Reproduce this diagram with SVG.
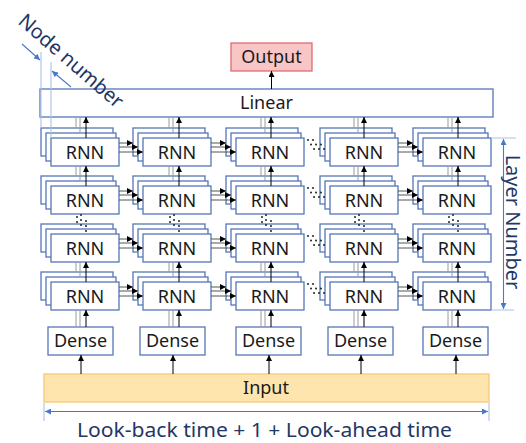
<svg xmlns="http://www.w3.org/2000/svg" width="526" height="443" viewBox="0 0 526 443">
  <style>
    text { font-family: "Noto Sans", "Open Sans", sans-serif; }
    .box { fill: #ffffff; stroke: #5676b8; stroke-width: 1.3; }
    .lbl { font-size: 18px; fill: #1a1a1a; text-anchor: middle; }
    .dim-text { font-size: 20px; fill: #1f3864; }
    .up { stroke: #000; stroke-width: 1; fill: none; }
    .side { stroke: #9a9a9a; stroke-width: 1; fill: none; }
    .fwd { stroke: #555; stroke-width: 1; fill: none; }
    .dot { fill: #222; }
    .dim { stroke: #4a78c8; stroke-width: 1.1; fill: none; }
    .ext { stroke: #a9c2ea; stroke-width: 1.1; fill: none; }
  </style>
  <defs>
    <marker id="ah" viewBox="0 0 10 10" refX="10" refY="5" markerWidth="6" markerHeight="6" markerUnits="userSpaceOnUse" orient="auto">
      <path d="M0,0 L10,5 L0,10 z" fill="#000"/>
    </marker>
    <marker id="bh" viewBox="0 0 10 10" refX="10" refY="5" markerWidth="7" markerHeight="6" markerUnits="userSpaceOnUse" orient="auto-start-reverse">
      <path d="M0,0 L10,5 L0,10 z" fill="#4a78c8"/>
    </marker>
  </defs>

  <!-- output and linear head -->
  <g id="output">
    <rect x="231" y="43" width="81" height="28" fill="#f8c6c6" stroke="#e36b6b" stroke-width="1.3"/>
    <text class="lbl" x="271.5" y="63">Output</text>
  </g>
  <g id="linear">
    <rect class="box" x="40" y="89" width="453" height="28"/>
    <text class="lbl" x="266.5" y="109">Linear</text>
  </g>

  <!-- RNN stacks: back, middle and front cell of each node -->
  <g id="rnn-1-1" transform="translate(51,138)"><rect class="box" x="-10" y="-10" width="72" height="28"/><rect class="box" x="-5" y="-5" width="70" height="28"/><rect class="box" width="68" height="28"/><text class="lbl" x="34" y="21">RNN</text></g>
  <g id="rnn-1-2" transform="translate(143,138)"><rect class="box" x="-10" y="-10" width="72" height="28"/><rect class="box" x="-5" y="-5" width="70" height="28"/><rect class="box" width="68" height="28"/><text class="lbl" x="34" y="21">RNN</text></g>
  <g id="rnn-1-3" transform="translate(236,138)"><rect class="box" x="-10" y="-10" width="72" height="28"/><rect class="box" x="-5" y="-5" width="70" height="28"/><rect class="box" width="68" height="28"/><text class="lbl" x="34" y="21">RNN</text></g>
  <g id="rnn-1-4" transform="translate(330,138)"><rect class="box" x="-10" y="-10" width="72" height="28"/><rect class="box" x="-5" y="-5" width="70" height="28"/><rect class="box" width="68" height="28"/><text class="lbl" x="34" y="21">RNN</text></g>
  <g id="rnn-1-5" transform="translate(423,138)"><rect class="box" x="-10" y="-10" width="72" height="28"/><rect class="box" x="-5" y="-5" width="70" height="28"/><rect class="box" width="68" height="28"/><text class="lbl" x="34" y="21">RNN</text></g>

  <g id="rnn-2-1" transform="translate(51,186)"><rect class="box" x="-10" y="-10" width="72" height="28"/><rect class="box" x="-5" y="-5" width="70" height="28"/><rect class="box" width="68" height="28"/><text class="lbl" x="34" y="21">RNN</text></g>
  <g id="rnn-2-2" transform="translate(143,186)"><rect class="box" x="-10" y="-10" width="72" height="28"/><rect class="box" x="-5" y="-5" width="70" height="28"/><rect class="box" width="68" height="28"/><text class="lbl" x="34" y="21">RNN</text></g>
  <g id="rnn-2-3" transform="translate(236,186)"><rect class="box" x="-10" y="-10" width="72" height="28"/><rect class="box" x="-5" y="-5" width="70" height="28"/><rect class="box" width="68" height="28"/><text class="lbl" x="34" y="21">RNN</text></g>
  <g id="rnn-2-4" transform="translate(330,186)"><rect class="box" x="-10" y="-10" width="72" height="28"/><rect class="box" x="-5" y="-5" width="70" height="28"/><rect class="box" width="68" height="28"/><text class="lbl" x="34" y="21">RNN</text></g>
  <g id="rnn-2-5" transform="translate(423,186)"><rect class="box" x="-10" y="-10" width="72" height="28"/><rect class="box" x="-5" y="-5" width="70" height="28"/><rect class="box" width="68" height="28"/><text class="lbl" x="34" y="21">RNN</text></g>

  <g id="rnn-3-1" transform="translate(51,234)"><rect class="box" x="-10" y="-10" width="72" height="28"/><rect class="box" x="-5" y="-5" width="70" height="28"/><rect class="box" width="68" height="28"/><text class="lbl" x="34" y="21">RNN</text></g>
  <g id="rnn-3-2" transform="translate(143,234)"><rect class="box" x="-10" y="-10" width="72" height="28"/><rect class="box" x="-5" y="-5" width="70" height="28"/><rect class="box" width="68" height="28"/><text class="lbl" x="34" y="21">RNN</text></g>
  <g id="rnn-3-3" transform="translate(236,234)"><rect class="box" x="-10" y="-10" width="72" height="28"/><rect class="box" x="-5" y="-5" width="70" height="28"/><rect class="box" width="68" height="28"/><text class="lbl" x="34" y="21">RNN</text></g>
  <g id="rnn-3-4" transform="translate(330,234)"><rect class="box" x="-10" y="-10" width="72" height="28"/><rect class="box" x="-5" y="-5" width="70" height="28"/><rect class="box" width="68" height="28"/><text class="lbl" x="34" y="21">RNN</text></g>
  <g id="rnn-3-5" transform="translate(423,234)"><rect class="box" x="-10" y="-10" width="72" height="28"/><rect class="box" x="-5" y="-5" width="70" height="28"/><rect class="box" width="68" height="28"/><text class="lbl" x="34" y="21">RNN</text></g>

  <g id="rnn-4-1" transform="translate(51,282)"><rect class="box" x="-10" y="-10" width="72" height="28"/><rect class="box" x="-5" y="-5" width="70" height="28"/><rect class="box" width="68" height="28"/><text class="lbl" x="34" y="21">RNN</text></g>
  <g id="rnn-4-2" transform="translate(143,282)"><rect class="box" x="-10" y="-10" width="72" height="28"/><rect class="box" x="-5" y="-5" width="70" height="28"/><rect class="box" width="68" height="28"/><text class="lbl" x="34" y="21">RNN</text></g>
  <g id="rnn-4-3" transform="translate(236,282)"><rect class="box" x="-10" y="-10" width="72" height="28"/><rect class="box" x="-5" y="-5" width="70" height="28"/><rect class="box" width="68" height="28"/><text class="lbl" x="34" y="21">RNN</text></g>
  <g id="rnn-4-4" transform="translate(330,282)"><rect class="box" x="-10" y="-10" width="72" height="28"/><rect class="box" x="-5" y="-5" width="70" height="28"/><rect class="box" width="68" height="28"/><text class="lbl" x="34" y="21">RNN</text></g>
  <g id="rnn-4-5" transform="translate(423,282)"><rect class="box" x="-10" y="-10" width="72" height="28"/><rect class="box" x="-5" y="-5" width="70" height="28"/><rect class="box" width="68" height="28"/><text class="lbl" x="34" y="21">RNN</text></g>

  <!-- dense layers -->
  <g id="dense-1"><rect class="box" x="48" y="327" width="65" height="28"/><text class="lbl" x="80.5" y="347">Dense</text></g>
  <g id="dense-2"><rect class="box" x="140" y="327" width="65" height="28"/><text class="lbl" x="172.5" y="347">Dense</text></g>
  <g id="dense-3"><rect class="box" x="236" y="327" width="65" height="28"/><text class="lbl" x="268.5" y="347">Dense</text></g>
  <g id="dense-4"><rect class="box" x="328" y="327" width="65" height="28"/><text class="lbl" x="360.5" y="347">Dense</text></g>
  <g id="dense-5"><rect class="box" x="423" y="327" width="65" height="28"/><text class="lbl" x="455.5" y="347">Dense</text></g>

  <!-- input band -->
  <g id="input">
    <rect x="44" y="374" width="445" height="28" fill="#fee5ad" stroke="#f5c879" stroke-width="1.3"/>
    <text class="lbl" x="266" y="394">Input</text>
  </g>

  <g id="connectors">
    <!-- linear to output -->
    <line class="up" x1="271.5" y1="89" x2="271.5" y2="71" marker-end="url(#ah)"/>

    <!-- input to dense -->
    <line class="up" x1="81" y1="374" x2="81" y2="355" marker-end="url(#ah)"/>
    <line class="up" x1="173" y1="374" x2="173" y2="355" marker-end="url(#ah)"/>
    <line class="up" x1="269" y1="374" x2="269" y2="355" marker-end="url(#ah)"/>
    <line class="up" x1="361" y1="374" x2="361" y2="355" marker-end="url(#ah)"/>
    <line class="up" x1="456" y1="374" x2="456" y2="355" marker-end="url(#ah)"/>

    <!-- top layer to linear -->
    <path class="side" d="M76,128V117 M80,133V117 M169,128V117 M173,133V117 M261,128V117 M265,133V117 M354,128V117 M358,133V117 M448,128V117 M452,133V117"/>
    <line class="up" x1="86" y1="138" x2="86" y2="117" marker-end="url(#ah)"/>
    <line class="up" x1="179" y1="138" x2="179" y2="117" marker-end="url(#ah)"/>
    <line class="up" x1="271" y1="138" x2="271" y2="117" marker-end="url(#ah)"/>
    <line class="up" x1="364" y1="138" x2="364" y2="117" marker-end="url(#ah)"/>
    <line class="up" x1="458" y1="138" x2="458" y2="117" marker-end="url(#ah)"/>

    <!-- layer 2 to layer 1 -->
    <path class="side" d="M76,176V166 M80,181V166 M169,176V166 M173,181V166 M261,176V166 M265,181V166 M354,176V166 M358,181V166 M448,176V166 M452,181V166"/>
    <line class="up" x1="86" y1="186" x2="86" y2="166" marker-end="url(#ah)"/>
    <line class="up" x1="179" y1="186" x2="179" y2="166" marker-end="url(#ah)"/>
    <line class="up" x1="271" y1="186" x2="271" y2="166" marker-end="url(#ah)"/>
    <line class="up" x1="364" y1="186" x2="364" y2="166" marker-end="url(#ah)"/>
    <line class="up" x1="458" y1="186" x2="458" y2="166" marker-end="url(#ah)"/>

    <!-- last layer to the one above -->
    <path class="side" d="M76,272V262 M80,277V262 M169,272V262 M173,277V262 M261,272V262 M265,277V262 M354,272V262 M358,277V262 M448,272V262 M452,277V262"/>
    <line class="up" x1="86" y1="282" x2="86" y2="262" marker-end="url(#ah)"/>
    <line class="up" x1="179" y1="282" x2="179" y2="262" marker-end="url(#ah)"/>
    <line class="up" x1="271" y1="282" x2="271" y2="262" marker-end="url(#ah)"/>
    <line class="up" x1="364" y1="282" x2="364" y2="262" marker-end="url(#ah)"/>
    <line class="up" x1="458" y1="282" x2="458" y2="262" marker-end="url(#ah)"/>

    <!-- dense to first layer -->
    <path class="side" d="M76,327V310 M80,327V310 M169,327V310 M173,327V310 M261,327V310 M265,327V310 M354,327V310 M358,327V310 M448,327V310 M452,327V310"/>
    <line class="up" x1="86" y1="327" x2="86" y2="310" marker-end="url(#ah)"/>
    <line class="up" x1="179" y1="327" x2="179" y2="310" marker-end="url(#ah)"/>
    <line class="up" x1="271" y1="327" x2="271" y2="310" marker-end="url(#ah)"/>
    <line class="up" x1="364" y1="327" x2="364" y2="310" marker-end="url(#ah)"/>
    <line class="up" x1="458" y1="327" x2="458" y2="310" marker-end="url(#ah)"/>

    <!-- forward in time: column 1 to 2 -->
    <line class="fwd" x1="119" y1="143" x2="133" y2="143" marker-end="url(#ah)"/>
    <line class="fwd" x1="119" y1="147" x2="138" y2="147" marker-end="url(#ah)"/>
    <line class="fwd" x1="119" y1="152" x2="143" y2="152" marker-end="url(#ah)"/>
    <line class="fwd" x1="119" y1="191" x2="133" y2="191" marker-end="url(#ah)"/>
    <line class="fwd" x1="119" y1="195" x2="138" y2="195" marker-end="url(#ah)"/>
    <line class="fwd" x1="119" y1="200" x2="143" y2="200" marker-end="url(#ah)"/>
    <line class="fwd" x1="119" y1="239" x2="133" y2="239" marker-end="url(#ah)"/>
    <line class="fwd" x1="119" y1="243" x2="138" y2="243" marker-end="url(#ah)"/>
    <line class="fwd" x1="119" y1="248" x2="143" y2="248" marker-end="url(#ah)"/>
    <line class="fwd" x1="119" y1="287" x2="133" y2="287" marker-end="url(#ah)"/>
    <line class="fwd" x1="119" y1="291" x2="138" y2="291" marker-end="url(#ah)"/>
    <line class="fwd" x1="119" y1="296" x2="143" y2="296" marker-end="url(#ah)"/>

    <!-- column 2 to 3 -->
    <line class="fwd" x1="211" y1="143" x2="226" y2="143" marker-end="url(#ah)"/>
    <line class="fwd" x1="211" y1="147" x2="231" y2="147" marker-end="url(#ah)"/>
    <line class="fwd" x1="211" y1="152" x2="236" y2="152" marker-end="url(#ah)"/>
    <line class="fwd" x1="211" y1="191" x2="226" y2="191" marker-end="url(#ah)"/>
    <line class="fwd" x1="211" y1="195" x2="231" y2="195" marker-end="url(#ah)"/>
    <line class="fwd" x1="211" y1="200" x2="236" y2="200" marker-end="url(#ah)"/>
    <line class="fwd" x1="211" y1="239" x2="226" y2="239" marker-end="url(#ah)"/>
    <line class="fwd" x1="211" y1="243" x2="231" y2="243" marker-end="url(#ah)"/>
    <line class="fwd" x1="211" y1="248" x2="236" y2="248" marker-end="url(#ah)"/>
    <line class="fwd" x1="211" y1="287" x2="226" y2="287" marker-end="url(#ah)"/>
    <line class="fwd" x1="211" y1="291" x2="231" y2="291" marker-end="url(#ah)"/>
    <line class="fwd" x1="211" y1="296" x2="236" y2="296" marker-end="url(#ah)"/>

    <!-- column 4 to 5 -->
    <line class="fwd" x1="398" y1="143" x2="413" y2="143" marker-end="url(#ah)"/>
    <line class="fwd" x1="398" y1="147" x2="418" y2="147" marker-end="url(#ah)"/>
    <line class="fwd" x1="398" y1="152" x2="423" y2="152" marker-end="url(#ah)"/>
    <line class="fwd" x1="398" y1="191" x2="413" y2="191" marker-end="url(#ah)"/>
    <line class="fwd" x1="398" y1="195" x2="418" y2="195" marker-end="url(#ah)"/>
    <line class="fwd" x1="398" y1="200" x2="423" y2="200" marker-end="url(#ah)"/>
    <line class="fwd" x1="398" y1="239" x2="413" y2="239" marker-end="url(#ah)"/>
    <line class="fwd" x1="398" y1="243" x2="418" y2="243" marker-end="url(#ah)"/>
    <line class="fwd" x1="398" y1="248" x2="423" y2="248" marker-end="url(#ah)"/>
    <line class="fwd" x1="398" y1="287" x2="413" y2="287" marker-end="url(#ah)"/>
    <line class="fwd" x1="398" y1="291" x2="418" y2="291" marker-end="url(#ah)"/>
    <line class="fwd" x1="398" y1="296" x2="423" y2="296" marker-end="url(#ah)"/>

    <!-- elided time steps between column 3 and 4 -->
    <g id="skip-time" class="dot">
      <g transform="translate(0,0)">
        <circle cx="308" cy="140" r="1"/><circle cx="313" cy="140" r="1"/>
        <circle cx="311" cy="144.5" r="1"/><circle cx="316" cy="144.5" r="1"/><circle cx="321" cy="144.5" r="1"/>
        <circle cx="314" cy="149" r="1"/><circle cx="319" cy="149" r="1"/><circle cx="324" cy="149" r="1"/>
      </g>
      <g transform="translate(0,48)">
        <circle cx="308" cy="140" r="1"/><circle cx="313" cy="140" r="1"/>
        <circle cx="311" cy="144.5" r="1"/><circle cx="316" cy="144.5" r="1"/><circle cx="321" cy="144.5" r="1"/>
        <circle cx="314" cy="149" r="1"/><circle cx="319" cy="149" r="1"/><circle cx="324" cy="149" r="1"/>
      </g>
      <g transform="translate(0,96)">
        <circle cx="308" cy="140" r="1"/><circle cx="313" cy="140" r="1"/>
        <circle cx="311" cy="144.5" r="1"/><circle cx="316" cy="144.5" r="1"/><circle cx="321" cy="144.5" r="1"/>
        <circle cx="314" cy="149" r="1"/><circle cx="319" cy="149" r="1"/><circle cx="324" cy="149" r="1"/>
      </g>
      <g transform="translate(0,144)">
        <circle cx="308" cy="140" r="1"/><circle cx="313" cy="140" r="1"/>
        <circle cx="311" cy="144.5" r="1"/><circle cx="316" cy="144.5" r="1"/><circle cx="321" cy="144.5" r="1"/>
        <circle cx="314" cy="149" r="1"/><circle cx="319" cy="149" r="1"/><circle cx="324" cy="149" r="1"/>
      </g>
    </g>

    <!-- elided layers between row 2 and 3 -->
    <g id="skip-layer" class="dot">
      <g transform="translate(86,0)">
        <circle cx="-9" cy="217" r="1"/><circle cx="-9" cy="222" r="1"/>
        <circle cx="-5" cy="215" r="1"/><circle cx="-5" cy="220" r="1"/><circle cx="-5" cy="225" r="1"/>
        <circle cx="0" cy="221" r="1"/><circle cx="0" cy="226" r="1"/><circle cx="0" cy="231" r="1"/>
      </g>
      <g transform="translate(179,0)">
        <circle cx="-9" cy="217" r="1"/><circle cx="-9" cy="222" r="1"/>
        <circle cx="-5" cy="215" r="1"/><circle cx="-5" cy="220" r="1"/><circle cx="-5" cy="225" r="1"/>
        <circle cx="0" cy="221" r="1"/><circle cx="0" cy="226" r="1"/><circle cx="0" cy="231" r="1"/>
      </g>
      <g transform="translate(271,0)">
        <circle cx="-9" cy="217" r="1"/><circle cx="-9" cy="222" r="1"/>
        <circle cx="-5" cy="215" r="1"/><circle cx="-5" cy="220" r="1"/><circle cx="-5" cy="225" r="1"/>
        <circle cx="0" cy="221" r="1"/><circle cx="0" cy="226" r="1"/><circle cx="0" cy="231" r="1"/>
      </g>
      <g transform="translate(364,0)">
        <circle cx="-9" cy="217" r="1"/><circle cx="-9" cy="222" r="1"/>
        <circle cx="-5" cy="215" r="1"/><circle cx="-5" cy="220" r="1"/><circle cx="-5" cy="225" r="1"/>
        <circle cx="0" cy="221" r="1"/><circle cx="0" cy="226" r="1"/><circle cx="0" cy="231" r="1"/>
      </g>
      <g transform="translate(458,0)">
        <circle cx="-9" cy="217" r="1"/><circle cx="-9" cy="222" r="1"/>
        <circle cx="-5" cy="215" r="1"/><circle cx="-5" cy="220" r="1"/><circle cx="-5" cy="225" r="1"/>
        <circle cx="0" cy="221" r="1"/><circle cx="0" cy="226" r="1"/><circle cx="0" cy="231" r="1"/>
      </g>
    </g>
  </g>

  <!-- dimension: node number (stack depth) -->
  <g id="dim-node">
    <path class="ext" d="M41,52V128 M51,62V138"/>
    <line class="dim" x1="22" y1="44" x2="40" y2="60" marker-end="url(#bh)"/>
    <line class="dim" x1="71" y1="87" x2="52" y2="71" marker-end="url(#bh)"/>
    <text class="dim-text" transform="translate(17,23) rotate(41)">Node number</text>
  </g>

  <!-- dimension: layer number -->
  <g id="dim-layer">
    <path class="ext" d="M491,138H516 M491,310H514"/>
    <line class="dim" x1="503.5" y1="139" x2="503.5" y2="309" marker-start="url(#bh)" marker-end="url(#bh)"/>
    <text class="dim-text" transform="translate(505.5,222) rotate(90)" text-anchor="middle" font-size="19.5">Layer Number</text>
  </g>

  <!-- dimension: time window -->
  <g id="dim-time">
    <path class="ext" d="M44,403V421 M489,403V421"/>
    <line class="dim" x1="45" y1="411.5" x2="488" y2="411.5" marker-start="url(#bh)" marker-end="url(#bh)"/>
    <text class="dim-text" x="77" y="437" font-size="21" textLength="375" lengthAdjust="spacingAndGlyphs">Look-back time + 1 + Look-ahead time</text>
  </g>
</svg>
